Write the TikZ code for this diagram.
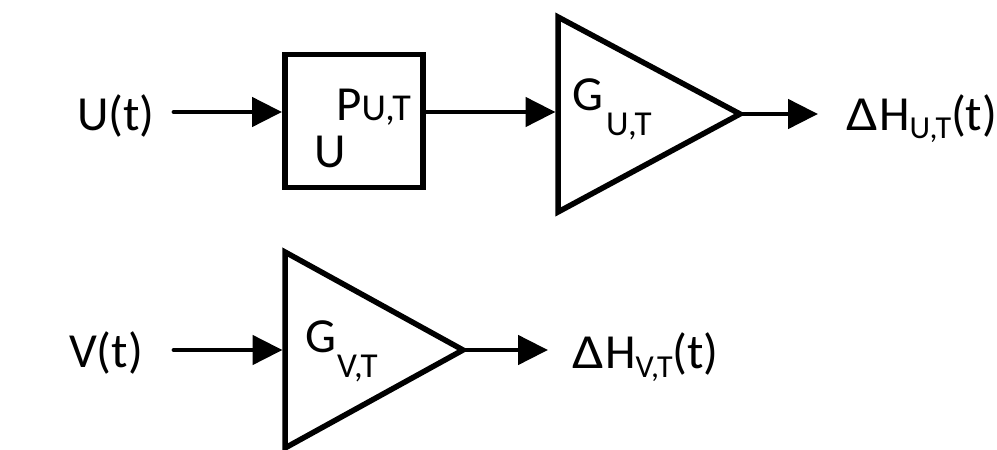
\documentclass[tikz,border=0pt]{standalone}
\usepackage{graphicx}
\usepackage{fontspec}
\setmainfont{Carlito}
\usetikzlibrary{arrows.meta}
\newcommand{\bigsz}{\fontsize{49}{52}\selectfont}
\newcommand{\midsz}{\fontsize{38}{42}\selectfont}
\newcommand{\gsubsz}{\fontsize{35}{38}\selectfont}
\newcommand{\subsz}{\fontsize{32}{35}\selectfont}
\newcommand{\wDelta}{\scalebox{1.15}[1]{Δ}\kern1pt}
\tikzset{
  txt/.style={inner sep=0pt, anchor=base west, font=\bigsz},
  subtxt/.style={inner sep=0pt, anchor=base west, font=\gsubsz},
  blockline/.style={line width=5.5pt, line join=miter},
  sig/.style={line width=4.8pt, -{Triangle[length=30pt,width=29pt]}},
  sigin/.style={sig, line cap=round}
}
\begin{document}
\begin{tikzpicture}[x=1pt,y=-1pt]
\useasboundingbox (0,0) rectangle (997,450);
% top path
\node[txt] (ut) at (77,130) {U(t)};
\coordinate (ustart) at (174,112);
\node[draw, blockline, minimum width=138pt, minimum height=133pt, inner sep=0pt, anchor=north west] (pbox) at (282,51.5) {};
\node[txt] (ptxt) at (336,120) {P{\midsz U,T}};
\node[txt] (utxt) at (314,167) {U};
\draw[blockline] (558,17) coordinate (g1top) -- (740,114) coordinate (g1tip) -- (558,212) coordinate (g1bot) -- cycle;
\coordinate (g1in) at (558,112);
\node[txt] (g1) at (572,110) {G};
\node[subtxt] (g1sub) at (606,135) {U,T};
\coordinate (g1out) at (818,114);
\node[txt] (dhu) at (846,130) {\wDelta H\raisebox{-8pt}{\subsz U,T}(t)};
\draw[sigin] (ustart) -- (pbox.west |- ustart);
\draw[sig] (pbox.east |- g1in) -- ([xshift=-2.5pt]g1in);
\draw[sig] (g1tip) -- (g1out);
% bottom path
\node[txt] (vt) at (69,367) {V(t)};
\coordinate (vstart) at (174,350);
\draw[blockline] (285,252) coordinate (g2top) -- (463,350) coordinate (g2tip) -- (285,448) coordinate (g2bot) -- cycle;
\coordinate (g2in) at (282.5,350);
\node[txt] (g2) at (305,352) {G};
\node[subtxt] (g2sub) at (337,377) {V,T};
\coordinate (g2out) at (548,350);
\node[txt] (dhv) at (572,368) {\wDelta H\raisebox{-9pt}{\subsz V,T}(t)};
\draw[sigin] (vstart) -- (g2in);
\draw[sig] (g2tip) -- (g2out);
\end{tikzpicture}
\end{document}
